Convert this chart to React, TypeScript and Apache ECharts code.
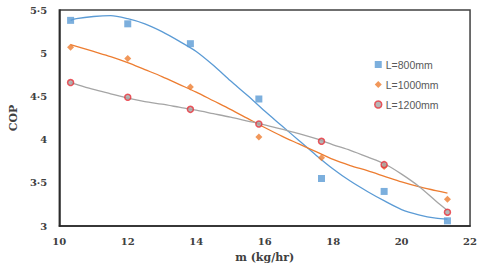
import React, { useEffect, useRef } from "react";
import * as echarts from "echarts";

const xValues = [10.33, 12, 13.83, 15.83, 17.66, 19.49, 21.34];
const copL800 = [5.38, 5.34, 5.11, 4.47, 3.55, 3.4, 3.06];
const copL1000 = [5.07, 4.94, 4.61, 4.03, 3.79, 3.69, 3.31];
const copL1200 = [4.66, 4.49, 4.35, 4.18, 3.98, 3.71, 3.16];

// trendline samples
const trendX = [10.33, 10.5, 11, 11.5, 12, 12.5, 13, 13.5, 14, 14.5, 15, 15.5, 16, 16.5, 17, 17.5, 18, 18.5, 19, 19.5, 20, 20.5, 21, 21.34];
const trendY800 = [5.38, 5.4, 5.425, 5.435, 5.4, 5.34, 5.25, 5.14, 5.02, 4.86, 4.68, 4.51, 4.33, 4.16, 3.99, 3.82, 3.66, 3.52, 3.4, 3.29, 3.19, 3.13, 3.09, 3.08];
const trendY1000 = [5.1, 5.08, 5.02, 4.96, 4.89, 4.81, 4.73, 4.64, 4.55, 4.45, 4.35, 4.245, 4.14, 4.04, 3.95, 3.86, 3.77, 3.7, 3.64, 3.575, 3.51, 3.455, 3.41, 3.38];
const trendY1200 = [4.66, 4.64, 4.58, 4.53, 4.48, 4.44, 4.41, 4.375, 4.34, 4.3, 4.26, 4.215, 4.17, 4.12, 4.07, 4.01, 3.94, 3.875, 3.8, 3.72, 3.6, 3.46, 3.29, 3.18];

const seriesNames = ["L=800mm", "L=1000mm", "L=1200mm"];

const zip = (xs: number[], ys: number[]) => xs.map((x, i) => [x, ys[i]]);

export default function App() {
  const ref = useRef<HTMLDivElement>(null);
  useEffect(() => {
    if (!ref.current) return;
    const chart = echarts.init(ref.current, undefined, { renderer: "svg" });
    const axisFont = {
      fontFamily: "DejaVu Serif",
      fontWeight: "bold" as const,
      color: "#404040",
      fontSize: 10,
    };
    const trendLine = (xs: number[], ys: number[], color: string) => ({
      type: "line",
      data: zip(xs, ys),
      smooth: 0.3,
      showSymbol: false,
      silent: true,
      lineStyle: { color, width: 1.3 },
      z: 1,
    });
    chart.setOption({
      animation: false,
      backgroundColor: "#ffffff",
      grid: {
        left: 51,
        top: 10,
        right: 9,
        bottom: 41,
        show: true,
        borderColor: "#404040",
        borderWidth: 1.5,
      },
      legend: {
        orient: "vertical",
        left: 369,
        top: 54,
        itemGap: 9,
        itemWidth: 7,
        itemHeight: 7,
        itemStyle: { borderWidth: 1.5 },
        data: [
          { name: seriesNames[0], icon: "rect" },
          { name: seriesNames[1], icon: "diamond" },
          { name: seriesNames[2], icon: "circle" },
        ],
        textStyle: { fontFamily: "Liberation Sans", fontSize: 10.5, color: "#595959", padding: [0, 0, 0, -1] },
      },
      xAxis: {
        type: "value",
        min: 10,
        max: 22,
        interval: 2,
        name: "m (kg/hr)",
        nameLocation: "middle",
        nameGap: 26,
        nameTextStyle: { ...axisFont, fontSize: 11 },
        axisLine: { show: true, lineStyle: { color: "#262626", width: 1.5 } },
        axisTick: { show: false },
        splitLine: { show: false },
        axisLabel: { ...axisFont, margin: 10 },
      },
      yAxis: {
        type: "value",
        min: 3,
        max: 5.5,
        interval: 0.5,
        name: "COP",
        nameLocation: "middle",
        nameGap: 32,
        nameTextStyle: { ...axisFont, fontSize: 11 },
        axisLine: { show: true, lineStyle: { color: "#262626", width: 1.5 } },
        axisTick: { show: false },
        splitLine: { show: false },
        axisLabel: {
          ...axisFont,
          margin: 12,
          formatter: (v: number) => String(v).replace(".", "·"),
        },
      },
      series: [
        trendLine(trendX, trendY800, "#5B9BD5"),
        trendLine(trendX, trendY1000, "#ED7D31"),
        trendLine(trendX, trendY1200, "#A5A5A5"),
        {
          name: seriesNames[0],
          type: "scatter",
          data: zip(xValues, copL800),
          symbol: "rect",
          symbolSize: 7,
          itemStyle: { color: "#5B9BD5" },
          z: 3,
        },
        {
          name: seriesNames[1],
          type: "scatter",
          data: zip(xValues, copL1000),
          symbol: "diamond",
          symbolSize: 7,
          itemStyle: { color: "#ED7D31" },
          z: 3,
        },
        {
          name: seriesNames[2],
          type: "scatter",
          data: zip(xValues, copL1200),
          symbol: "circle",
          symbolSize: 6,
          itemStyle: { color: "#A5A5A5", borderColor: "#E8313A", borderWidth: 1.5 },
          z: 3,
        },
      ],
    });
    return () => chart.dispose();
  }, []);
  return <div ref={ref} style={{ width: 480, height: 268, position: "fixed", left: 0, top: 0 }} />;
}
